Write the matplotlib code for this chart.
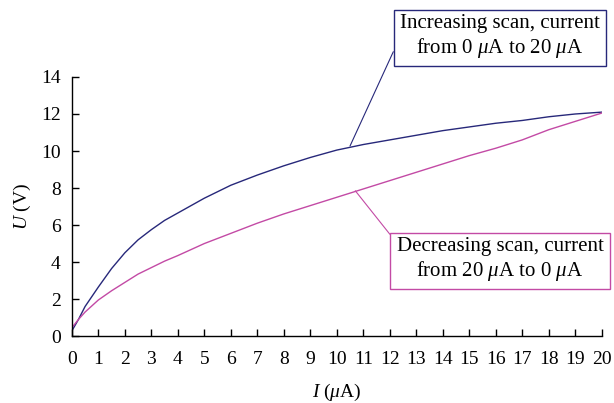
import matplotlib
matplotlib.use('Agg')
import matplotlib.pyplot as plt
import numpy as np

plt.rcParams['font.family'] = ['Liberation Serif', 'DejaVu Serif']
plt.rcParams['mathtext.fontset'] = 'custom'
plt.rcParams['mathtext.rm'] = 'Liberation Serif'
plt.rcParams['mathtext.it'] = 'Liberation Serif:italic'

# Data
current = [0, 0.25, 0.5, 1, 1.5, 2, 2.5, 3, 3.5, 4, 5, 6, 7, 8, 9, 10, 11, 12, 13, 14, 15, 16, 17, 18, 19, 20]
u_increasing = [0.28, 0.9, 1.6, 2.65, 3.65, 4.5, 5.2, 5.75, 6.25, 6.65, 7.45, 8.15, 8.7, 9.2, 9.65, 10.05,
                10.35, 10.6, 10.85, 11.1, 11.3, 11.5, 11.65, 11.85, 12.0, 12.1]
u_decreasing = [0.45, 0.9, 1.3, 1.95, 2.45, 2.9, 3.35, 3.7, 4.05, 4.35, 5.0, 5.55, 6.1, 6.6, 7.05, 7.5,
                7.95, 8.4, 8.85, 9.3, 9.75, 10.15, 10.6, 11.15, 11.6, 12.05]

blue = '#27287a'
pink = '#c34aa5'

fig = plt.figure(figsize=(6.14, 4.03), dpi=100)
ax = fig.add_axes([0.117, 0.166, 0.863, 0.643])

ax.plot(current, u_increasing, color=blue, lw=1.0)
ax.plot(current, u_decreasing, color=pink, lw=1.0)

ax.set_xlim(0, 20)
ax.set_ylim(0, 14)
ax.set_xticks(np.arange(0, 21, 1))
ax.set_yticks(np.arange(0, 15, 2))
ax.tick_params(direction='in', length=5, width=1, labelsize=14)
ax.tick_params(axis='x', pad=11)
ax.tick_params(axis='y', pad=8)
ax.spines['top'].set_visible(False)
ax.spines['right'].set_visible(False)
for s in ['left', 'bottom']:
    ax.spines[s].set_linewidth(1)

ax.set_xlabel(r'$I$ ($\mu$A)', fontsize=14, labelpad=10)
ax.set_ylabel(r'$U$ (V)', fontsize=14, labelpad=6)

# Callout boxes
ax.annotate('Increasing scan, current\nfrom 0 $\\mu$A to 20 $\\mu$A',
            xy=(10.5, 10.27), xycoords='data',
            xytext=(500, 366), textcoords='figure pixels',
            ha='center', va='center', fontsize=15, multialignment='center',
            linespacing=1.15,
            bbox=dict(boxstyle='square,pad=0.3', fc='white', ec=blue, lw=1),
            arrowprops=dict(arrowstyle='-', color=blue, lw=0.8, shrinkA=0, shrinkB=0,
                            relpos=(0, 0.5)))
ax.annotate('Decreasing scan, current\nfrom 20 $\\mu$A to 0 $\\mu$A',
            xy=(10.7, 7.85), xycoords='data',
            xytext=(500, 143), textcoords='figure pixels',
            ha='center', va='center', fontsize=15, multialignment='center',
            linespacing=1.15,
            bbox=dict(boxstyle='square,pad=0.3', fc='white', ec=pink, lw=1),
            arrowprops=dict(arrowstyle='-', color=pink, lw=0.8, shrinkA=0, shrinkB=0,
                            relpos=(0, 0.88)))

fig.savefig('out.png', dpi=100)
